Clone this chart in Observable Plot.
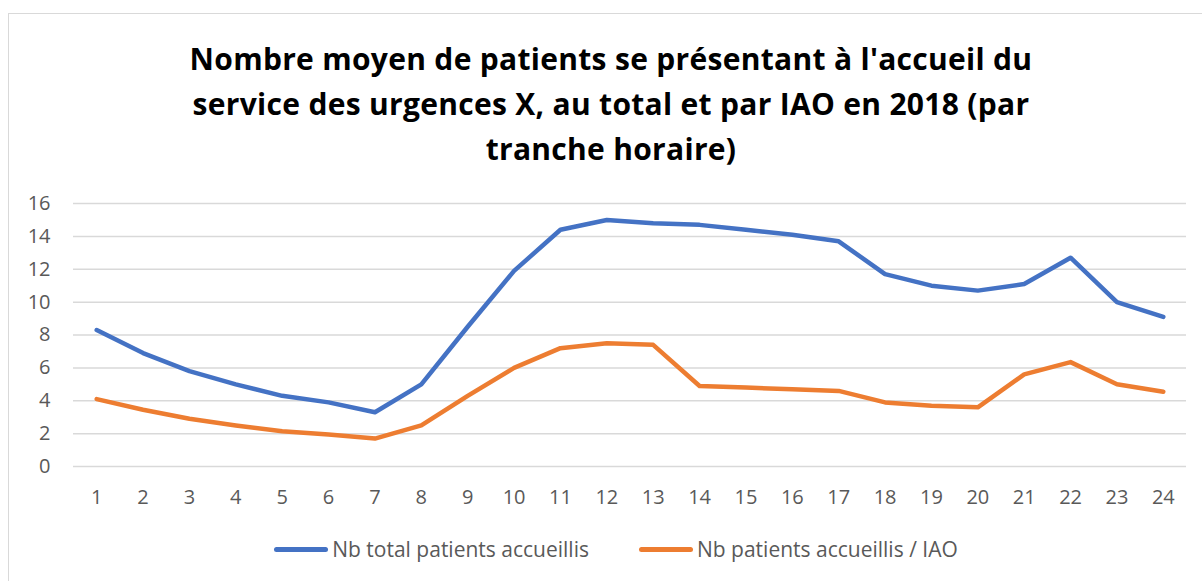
<!DOCTYPE html>
<html>
<head>
<meta charset="utf-8">
<script src="https://cdn.jsdelivr.net/npm/d3@7"></script>
<script src="https://cdn.jsdelivr.net/npm/@observablehq/plot@0.6"></script>
<style>
  html, body { margin: 0; padding: 0; background: #fff; overflow: hidden; }
  #wrap { position: relative; width: 1202px; height: 581px; overflow: hidden; font-family: "Open Sans", Lato, sans-serif; }
  #frame { position: absolute; left: 8px; top: 13px; width: 1400px; height: 800px; border: 1.5px solid #d9d9d9; box-sizing: border-box; }
  #title { position: absolute; left: 0; top: 36px; width: 1222px; text-align: center; font-weight: bold; font-size: 30px; letter-spacing: 0.3px; line-height: 45px; color: #000; }
  #chart { position: absolute; left: 0; top: 185px; }
  #legend { position: absolute; left: 0; top: 536px; width: 1232px; height: 26px; display: flex; justify-content: center; align-items: center; font-size: 21px; color: #595959; }
  .item { display: flex; align-items: center; margin: 0 50px 0 0; }
  .sw { display: inline-block; width: 54px; height: 5px; border-radius: 3px; margin-right: 4px; }
</style>
</head>
<body>
<div id="wrap">
  <div id="frame"></div>
  <div id="title"></div>
  <div id="chart"></div>
  <div id="legend"></div>
</div>
<script>
const titleLines = [
  "Nombre moyen de patients se présentant à l'accueil du",
  "service des urgences X, au total et par IAO en 2018 (par",
  "tranche horaire)"
];
const hours = [1,2,3,4,5,6,7,8,9,10,11,12,13,14,15,16,17,18,19,20,21,22,23,24];
const totalPatients = [8.3,6.9,5.8,5.0,4.3,3.9,3.3,5.0,8.5,11.9,14.4,15.0,14.8,14.7,14.4,14.1,13.7,11.7,11.0,10.7,11.1,12.7,10.0,9.1];
const iaoPatients = [4.1,3.45,2.9,2.5,2.15,1.95,1.7,2.5,4.3,6.0,7.2,7.5,7.4,4.9,4.8,4.7,4.6,3.9,3.7,3.6,5.6,6.35,5.0,4.55];
const seriesNames = ["Nb total patients accueillis", "Nb patients accueillis / IAO"];
const seriesColors = ["#4472C4", "#ED7D31"];
const yTicks = [0,2,4,6,8,10,12,14,16];

document.getElementById("title").innerHTML = titleLines.join("<br>");

const data = [];
hours.forEach((h, i) => {
  data.push({hour: h, value: totalPatients[i], series: seriesNames[0]});
  data.push({hour: h, value: iaoPatients[i], series: seriesNames[1]});
});

const chart = Plot.plot({
  width: 1202,
  height: 335,
  marginTop: 18,
  marginBottom: 54,
  marginLeft: 73,
  marginRight: 16,
  style: {fontFamily: "'Open Sans', Lato, sans-serif", fontSize: "20px", color: "#595959", background: "transparent"},
  x: {type: "point", domain: hours, padding: 0.5, round: false},
  y: {domain: [0, 16]},
  color: {domain: seriesNames, range: seriesColors},
  marks: [
    Plot.gridY(yTicks, {stroke: "#d9d9d9", strokeOpacity: 1, strokeWidth: 1.5}),
    Plot.axisY(yTicks, {tickSize: 0, tickPadding: 23, fill: "#595959", fontSize: 20, label: null}),
    Plot.axisX(hours, {tickSize: 0, tickPadding: 23, fill: "#595959", fontSize: 20, label: null}),
    Plot.line(data, {x: "hour", y: "value", z: "series", stroke: "series", strokeWidth: 4.5, strokeLinejoin: "round", strokeLinecap: "round"})
  ]
});
document.getElementById("chart").appendChild(chart);

const legend = document.getElementById("legend");
seriesNames.forEach((name, i) => {
  const it = document.createElement("div");
  it.className = "item";
  if (i === seriesNames.length - 1) it.style.marginRight = "0";
  const sw = document.createElement("span");
  sw.className = "sw";
  sw.style.background = seriesColors[i];
  const tx = document.createElement("span");
  tx.textContent = name;
  it.appendChild(sw);
  it.appendChild(tx);
  legend.appendChild(it);
});
</script>
</body>
</html>
